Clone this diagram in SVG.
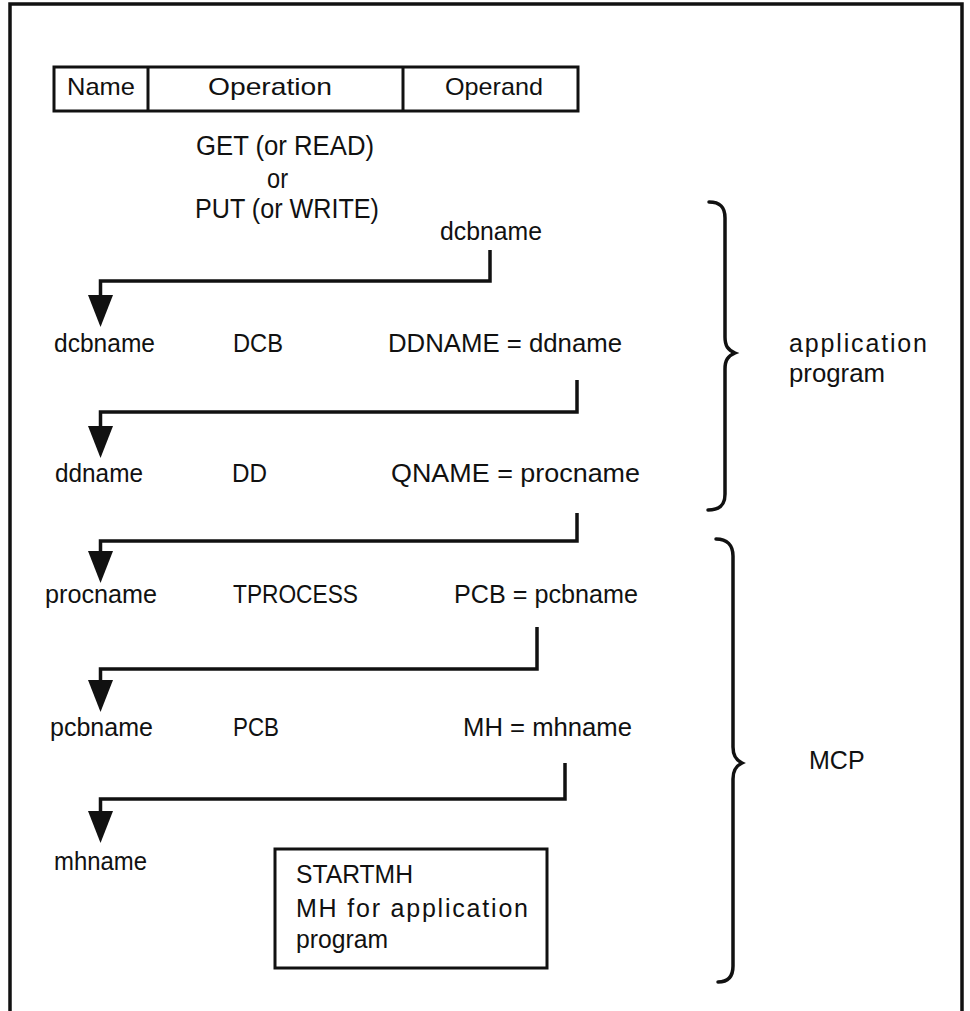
<svg xmlns="http://www.w3.org/2000/svg" width="970" height="1011" viewBox="0 0 970 1011">
  <style>
    text { font-family: "Liberation Sans", Arial, sans-serif; font-size: 25px; fill: #111; }
    .big { font-size: 27px; }
    .hdr { font-size: 24px; }
    .frame { fill: none; stroke: #111; stroke-width: 3.5; }
    .box { fill: #fff; stroke: #111; stroke-width: 3; }
    .link { fill: none; stroke: #111; stroke-width: 3.5; stroke-linejoin: miter; marker-end: url(#head); }
    .brace { fill: none; stroke: #111; stroke-width: 3.5; stroke-linecap: round; }
  </style>
  <defs>
    <marker id="head" viewBox="0 0 32 25" markerWidth="32" markerHeight="25" refX="24" refY="12.5" orient="auto" markerUnits="userSpaceOnUse">
      <path d="M0,0 L32,12.5 L0,25 Z" fill="#111"/>
    </marker>
  </defs>

  <rect width="970" height="1011" fill="#fff"/>

  <!-- page frame, open at the bottom -->
  <path class="frame" d="M10,1011 V4 H962 V1011"/>

  <!-- coding-form header -->
  <g id="header">
    <rect class="box" x="54" y="67" width="524" height="44"/>
    <line x1="148" y1="67" x2="148" y2="111" stroke="#111" stroke-width="3"/>
    <line x1="403" y1="67" x2="403" y2="111" stroke="#111" stroke-width="3"/>
    <text class="hdr" x="67" y="95" textLength="68" lengthAdjust="spacingAndGlyphs">Name</text>
    <text class="hdr" x="208" y="95" textLength="124" lengthAdjust="spacingAndGlyphs">Operation</text>
    <text class="hdr" x="445" y="95" textLength="98" lengthAdjust="spacingAndGlyphs">Operand</text>
  </g>

  <g id="macro-call">
    <text class="big" x="196" y="155" textLength="178" lengthAdjust="spacingAndGlyphs">GET (or READ)</text>
    <text class="big" x="267" y="188" textLength="21" lengthAdjust="spacingAndGlyphs">or</text>
    <text class="big" x="195" y="218" textLength="184" lengthAdjust="spacingAndGlyphs">PUT (or WRITE)</text>
  </g>

  <g id="call-operand">
    <text x="440" y="240" textLength="102" lengthAdjust="spacingAndGlyphs">dcbname</text>
  </g>

  <g id="dcb-stmt">
    <text x="54" y="352" textLength="101" lengthAdjust="spacingAndGlyphs">dcbname</text>
    <text x="233" y="352" textLength="50" lengthAdjust="spacingAndGlyphs">DCB</text>
    <text x="388" y="352" textLength="234" lengthAdjust="spacingAndGlyphs">DDNAME = ddname</text>
  </g>

  <g id="dd-stmt">
    <text x="55" y="482" textLength="88" lengthAdjust="spacingAndGlyphs">ddname</text>
    <text x="232" y="482" textLength="35" lengthAdjust="spacingAndGlyphs">DD</text>
    <text x="391" y="482" textLength="249" lengthAdjust="spacingAndGlyphs">QNAME = procname</text>
  </g>

  <g id="tprocess-stmt">
    <text x="45" y="603" textLength="112" lengthAdjust="spacingAndGlyphs">procname</text>
    <text x="233" y="603" textLength="125" lengthAdjust="spacingAndGlyphs">TPROCESS</text>
    <text x="454" y="603" textLength="184" lengthAdjust="spacingAndGlyphs">PCB = pcbname</text>
  </g>

  <g id="pcb-stmt">
    <text x="50" y="736" textLength="103" lengthAdjust="spacingAndGlyphs">pcbname</text>
    <text x="233" y="736" textLength="46" lengthAdjust="spacingAndGlyphs">PCB</text>
    <text x="463" y="736" textLength="169" lengthAdjust="spacingAndGlyphs">MH = mhname</text>
  </g>

  <g id="mh-stmt">
    <text x="54" y="870" textLength="93" lengthAdjust="spacingAndGlyphs">mhname</text>
  </g>

  <g id="startmh">
    <rect class="box" x="275" y="849" width="272" height="119"/>
    <text x="296" y="883" textLength="117" lengthAdjust="spacingAndGlyphs">STARTMH</text>
    <text x="296" y="917" textLength="232" lengthAdjust="spacing">MH for application</text>
    <text x="296" y="948" textLength="92" lengthAdjust="spacingAndGlyphs">program</text>
  </g>

  <g id="app-program">
    <path class="brace" d="M709,202 C720,202 725,207 725,218 V337 C725,346 728,350 735,353 C728,356 725,360 725,369 V494 C725,505 720,510 708,510"/>
    <text x="789" y="352" textLength="138" lengthAdjust="spacing">application</text>
    <text x="789" y="382" textLength="96" lengthAdjust="spacingAndGlyphs">program</text>
  </g>

  <g id="mcp">
    <path class="brace" d="M716,539 C727,539 733,545 733,556 V747 C733,756 736,760 742,763 C736,766 733,770 733,779 V966 C733,977 728,982 718,982"/>
    <text x="809" y="769">MCP</text>
  </g>

  <!-- name references -->
  <g id="connectors">
    <path class="link" d="M490,250 V281 H100.5 V319"/>
    <path class="link" d="M577,380 V412 H100.5 V450"/>
    <path class="link" d="M577,513 V541 H100.5 V575"/>
    <path class="link" d="M537,627 V669 H100.5 V704"/>
    <path class="link" d="M565,763 V799 H100.5 V835"/>
  </g>
</svg>
